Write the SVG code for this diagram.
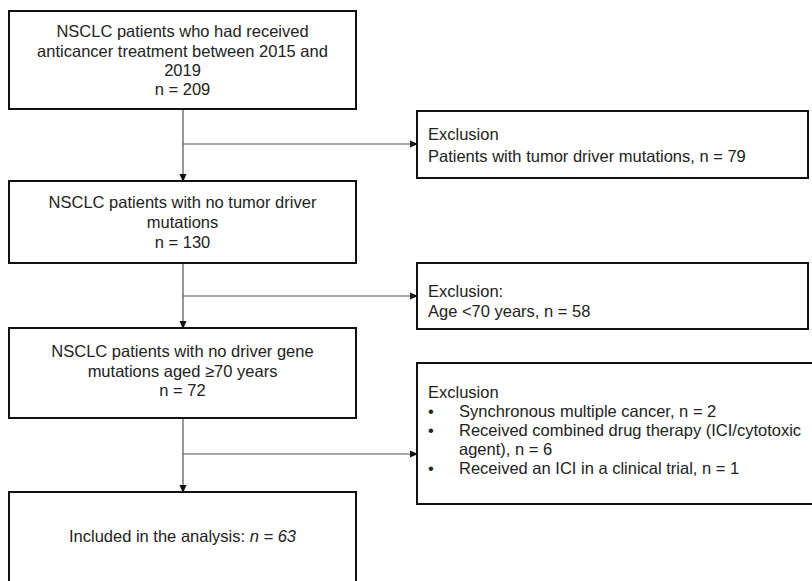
<svg xmlns="http://www.w3.org/2000/svg" width="812" height="581" viewBox="0 0 812 581">
<style>
.box{fill:#fff;stroke:#111;stroke-width:2}
.t{font-family:"Liberation Sans",Arial,sans-serif;font-size:16.5px;fill:#222}
.c{text-anchor:middle}
.ln{stroke:#555;stroke-width:1.2;fill:none}
</style>
<defs>
<marker id="ah" markerWidth="8" markerHeight="8" refX="7" refY="4" orient="auto" markerUnits="userSpaceOnUse">
<path d="M0,0.5 L8,4 L0,7.5 Z" fill="#111"/>
</marker>
</defs>
<rect width="812" height="581" fill="#fff"/>
<g id="connectors">
<path class="ln" d="M183,109 V181" marker-end="url(#ah)"/>
<path class="ln" d="M183,144 H417" marker-end="url(#ah)"/>
<path class="ln" d="M183,263 V328" marker-end="url(#ah)"/>
<path class="ln" d="M183,296 H417" marker-end="url(#ah)"/>
<path class="ln" d="M183,418 V492" marker-end="url(#ah)"/>
<path class="ln" d="M183,454 H417" marker-end="url(#ah)"/>
</g>
<g id="box1">
<rect class="box" x="9" y="11" width="347" height="98"/>
<text class="t c" x="182.5" y="37">NSCLC patients who had received</text>
<text class="t c" x="182.5" y="56.5">anticancer treatment between 2015 and</text>
<text class="t c" x="182.5" y="76">2019</text>
<text class="t c" x="182.5" y="95">n = 209</text>
</g>
<g id="excl1">
<rect class="box" x="417" y="111" width="391" height="67"/>
<text class="t" x="428" y="140">Exclusion</text>
<text class="t" x="428" y="162">Patients with tumor driver mutations, n = 79</text>
</g>
<g id="box2">
<rect class="box" x="9" y="181" width="347" height="82"/>
<text class="t c" x="182.5" y="208">NSCLC patients with no tumor driver</text>
<text class="t c" x="182.5" y="228">mutations</text>
<text class="t c" x="182.5" y="248">n = 130</text>
</g>
<g id="excl2">
<rect class="box" x="417" y="263" width="391" height="66"/>
<text class="t" x="428" y="297">Exclusion:</text>
<text class="t" x="428" y="317">Age &lt;70 years, n = 58</text>
</g>
<g id="box3">
<rect class="box" x="9" y="328" width="347" height="90"/>
<text class="t c" x="182.5" y="357">NSCLC patients with no driver gene</text>
<text class="t c" x="182.5" y="377">mutations aged ≥70 years</text>
<text class="t c" x="182.5" y="396">n = 72</text>
</g>
<g id="excl3">
<rect class="box" x="417" y="363" width="400" height="141"/>
<text class="t" x="428" y="398">Exclusion</text>
<text class="t" x="428" y="417">•</text>
<text class="t" x="459" y="417">Synchronous multiple cancer, n = 2</text>
<text class="t" x="428" y="436">•</text>
<text class="t" x="459" y="436">Received combined drug therapy (ICI/cytotoxic</text>
<text class="t" x="459" y="455">agent), n = 6</text>
<text class="t" x="428" y="474">•</text>
<text class="t" x="459" y="474">Received an ICI in a clinical trial, n = 1</text>
</g>
<g id="box4">
<rect class="box" x="9" y="492" width="347" height="100"/>
<text class="t c" x="182.5" y="542">Included in the analysis: <tspan font-style="italic">n = 63</tspan></text>
</g>
</svg>
